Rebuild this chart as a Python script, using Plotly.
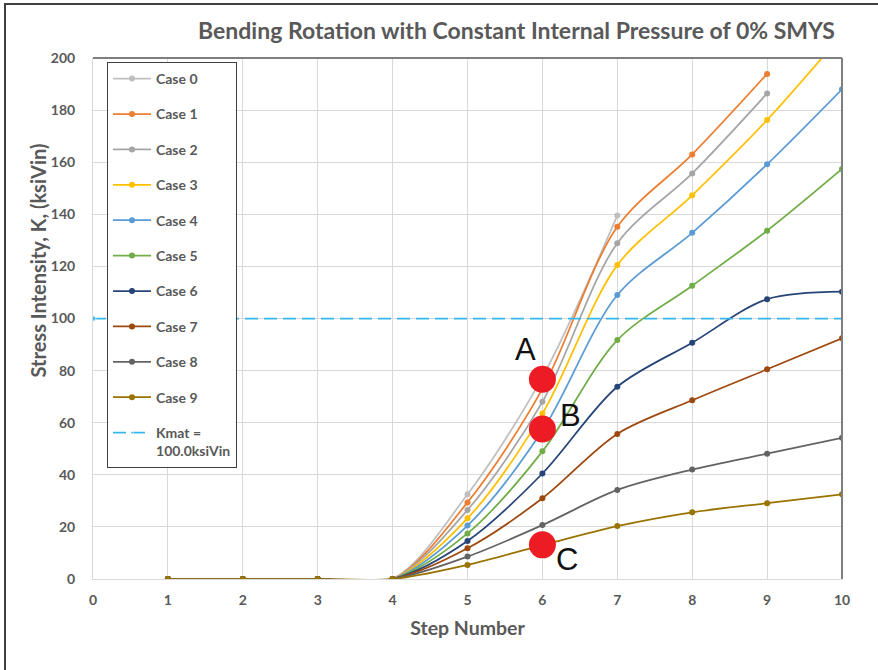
import plotly.graph_objects as go

# Step numbers along the loading history
steps = [1, 2, 3, 4, 5, 6, 7, 8, 9, 10]

# Stress intensity K (ksi*sqrt(in)) per case at each step
case_0 = [0, 0, 0, 0, 32.5, 77.5, 139.5]
case_1 = [0, 0, 0, 0, 29.4, 73.0, 135.2, 163.0, 193.9]
case_2 = [0, 0, 0, 0, 26.5, 68.0, 128.9, 155.7, 186.4]
case_3 = [0, 0, 0, 0, 23.3, 63.5, 120.5, 147.3, 176.2, 209.0]
case_4 = [0, 0, 0, 0, 20.5, 57.0, 109.0, 132.9, 159.2, 188.0]
case_5 = [0, 0, 0, 0, 17.5, 49.0, 91.7, 112.6, 133.7, 157.4]
case_6 = [0, 0, 0, 0, 14.6, 40.5, 73.8, 90.7, 107.4, 110.3]
case_7 = [0, 0, 0, 0, 11.8, 31.0, 55.7, 68.6, 80.5, 92.4]
case_8 = [0, 0, 0, 0, 8.6, 20.7, 34.2, 42.0, 48.1, 54.2]
case_9 = [0, 0, 0, 0, 5.4, 13.0, 20.3, 25.6, 29.1, 32.5]

cases = [case_0, case_1, case_2, case_3, case_4,
         case_5, case_6, case_7, case_8, case_9]
case_names = [f"Case {i}" for i in range(10)]
case_colors = ["#BFBFBF", "#ED7D31", "#A5A5A5", "#FFC000", "#5B9BD5",
               "#70AD47", "#264478", "#9E480E", "#636363", "#997300"]

# Material toughness threshold
kmat_x = [0, 10]
kmat_y = [100, 100]
kmat_name = "Kmat =<br>100.0ksiVin"

# Highlighted points at step 6
point_x = [6, 6, 6]
point_y = [76.7, 57.6, 13.1]
point_labels = ["A", "B", "C"]

x_ticks = list(range(0, 11))
y_ticks = list(range(0, 201, 20))

TXT = "#595959"
FONT = "Lato"

fig = go.Figure()

for i, (vals, name, col) in enumerate(zip(cases, case_names, case_colors)):
    fig.add_trace(go.Scatter(
        x=steps[:len(vals)], y=vals, name=name, legendgroup=name,
        mode="lines+markers",
        line=dict(color=col, width=1.75, shape="spline", smoothing=0.9),
        marker=dict(color=col, size=6),
    ))

fig.add_trace(go.Scatter(
    x=kmat_x, y=kmat_y, name=kmat_name, legendgroup="kmat",
    mode="lines+markers",
    line=dict(color="#35B6EC", width=1.75, dash="13px,6px"),
    marker=dict(color="#35B6EC", size=[6, 0]),
))

fig.add_trace(go.Scatter(
    x=point_x, y=point_y, mode="markers", showlegend=False,
    marker=dict(color="#ED1C24", size=27, line=dict(width=0)),
    hoverinfo="skip",
))

# Letter labels beside the highlighted points
label_pos = [(5.77, 88.0), (6.38, 62.6), (6.33, 7.3)]
for lab, (lx, ly) in zip(point_labels, label_pos):
    fig.add_annotation(x=lx, y=ly, xref="x", yref="y", text=lab,
                       showarrow=False,
                       font=dict(family="Liberation Sans", size=31, color="#111111"))

# Y-axis title
fig.add_annotation(x=-0.073, y=0.612, xref="paper", yref="paper",
                   text="Stress Intensity, K, (ksiVin)", textangle=-90,
                   showarrow=False, xanchor="center", yanchor="middle",
                   font=dict(family=FONT, size=20, color=TXT, weight="bold"))

# Dark frame on top and right of the plot area
fig.add_shape(type="line", xref="x domain", yref="y domain",
              x0=0, x1=1, y0=1, y1=1, line=dict(color="#7F7F7F", width=2))
fig.add_shape(type="line", xref="x domain", yref="y domain",
              x0=1, x1=1, y0=0, y1=1, line=dict(color="#7F7F7F", width=2))

# Outer chart border (top and left edges)
fig.add_shape(type="rect", xref="paper", yref="paper",
              x0=-0.1175, x1=1.2, y0=-0.3, y1=1.1037,
              line=dict(color="#404040", width=2), layer="below")

fig.update_layout(
    width=878, height=670,
    margin=dict(l=93, r=36, t=58, b=91),
    paper_bgcolor="white", plot_bgcolor="white",
    font=dict(family=FONT, color=TXT),
    title=dict(
        text="Bending Rotation with Constant Internal Pressure of 0% SMYS",
        x=516.5 / 878, xanchor="center", xref="container",
        y=1 - 31 / 670, yanchor="middle",
        font=dict(family=FONT, size=23, color=TXT, weight="bold"),
    ),
    showlegend=True,
    legend=dict(
        x=0.0187, y=0.9923, xanchor="left", yanchor="top",
        bgcolor="white", bordercolor="#404040", borderwidth=1,
        font=dict(family=FONT, size=14, color=TXT, weight="bold"),
        tracegroupgap=14.2, valign="top", itemwidth=38,
    ),
    xaxis=dict(
        range=[0, 10], tickvals=x_ticks, ticktext=[str(v) for v in x_ticks],
        showgrid=True, gridcolor="#D9D9D9", gridwidth=1,
        zeroline=False, showline=True, linecolor="#D9D9D9", linewidth=1,
        ticks="", tickfont=dict(family=FONT, size=14, color=TXT, weight="bold"),
        ticklabelstandoff=8,
        title=dict(text="Step Number", standoff=14,
                   font=dict(family=FONT, size=19.5, color=TXT, weight="bold")),
    ),
    yaxis=dict(
        range=[0, 200], tickvals=y_ticks, ticktext=[str(v) for v in y_ticks],
        showgrid=True, gridcolor="#D9D9D9", gridwidth=1,
        zeroline=False, showline=True, linecolor="#D9D9D9", linewidth=1,
        ticks="", tickfont=dict(family=FONT, size=14, color=TXT, weight="bold"),
        ticklabelstandoff=14,
    ),
)

fig.write_html("out.html")
